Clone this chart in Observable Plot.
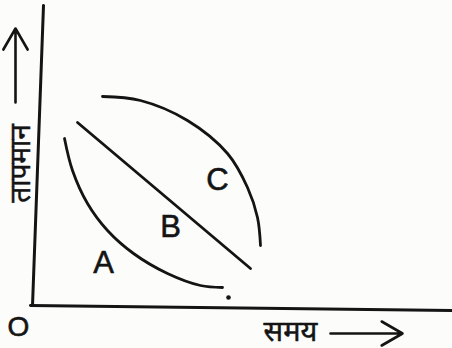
<!DOCTYPE html>
<html><head><meta charset="utf-8">
<script src="https://cdn.jsdelivr.net/npm/d3@7"></script>
<script src="https://cdn.jsdelivr.net/npm/@observablehq/plot@0.6"></script>
<style>body{margin:0;background:#fcfcfb;} svg{display:block;}</style>
</head><body><div id="chart"></div>
<script>
// Curve data (time, temperature) in chart units, origin at O
const curveA = [[22,164],[30,132],[45,99],[65,72],[91,49],[125,29],[158,17],[180,15]];
const curveB = [[35,180],[208,34]];
const curveC = [[60,206],[98,202],[145,182],[185,149],[205,115],[215,85],[218,57]];
const labels = [{t:"A",x:61,y:39},{t:"B",x:128,y:75},{t:"C",x:175,y:122}];
const dotPoint = [{x:186,y:5}];
const axisY = [[1,297],[-10,-3]];
const axisX = [[-12,-3],[410,-8]];
const xLabel = "समय";
const yLabel = "तापमान";
const originLabel = "O";

const toObj = a => a.map(([x,y]) => ({x,y}));
const ink = "#141414";
const font = "Liberation Sans, Arial, sans-serif";

const chart = Plot.plot({
  width: 452, height: 348,
  margin: 0,
  x: {domain: [-42, 410], axis: null},
  y: {domain: [-46, 302], axis: null},
  style: {background: "#fcfcfb"},
  marks: [
    Plot.line(toObj(axisY), {x:"x", y:"y", stroke: ink, strokeWidth: 3}),
    Plot.line(toObj(axisX), {x:"x", y:"y", stroke: ink, strokeWidth: 3}),
    Plot.line(toObj(curveA), {x:"x", y:"y", stroke: ink, strokeWidth: 2.8, curve: "catmull-rom"}),
    Plot.line(toObj(curveB), {x:"x", y:"y", stroke: ink, strokeWidth: 2.8}),
    Plot.line(toObj(curveC), {x:"x", y:"y", stroke: ink, strokeWidth: 2.8, curve: "catmull-rom"}),
    Plot.dot(dotPoint, {x:"x", y:"y", r: 2.3, fill: ink}),
    Plot.text(labels, {x:"x", y:"y", text:"t", fontSize: 31, fill: ink, stroke: ink, strokeWidth: 0.6, fontFamily: font}),
    Plot.text([originLabel], {x: -24, y: -25, text: d => d, fontSize: 28, fill: ink, stroke: ink, strokeWidth: 0.6, fontFamily: font}),
    Plot.text([xLabel], {x: 248, y: -29, text: d => d, fontSize: 29, fill: ink, stroke: ink, strokeWidth: 0.5, fontFamily: "Noto Sans, sans-serif"}),
    Plot.arrow([{x1: 288, y1: -31, x2: 360, y2: -31}], {x1:"x1", y1:"y1", x2:"x2", y2:"y2", stroke: ink, strokeWidth: 2.6, headLength: 14}),
    Plot.text([yLabel], {x: -21, y: 139, text: d => d, rotate: -90, fontSize: 28, fill: ink, stroke: ink, strokeWidth: 0.5, fontFamily: "Noto Sans, sans-serif"}),
    Plot.arrow([{x1: -27, y1: 200, x2: -27, y2: 274}], {x1:"x1", y1:"y1", x2:"x2", y2:"y2", stroke: ink, strokeWidth: 2.6, headLength: 14})
  ]
});
document.getElementById("chart").append(chart);
</script>
</body></html>
